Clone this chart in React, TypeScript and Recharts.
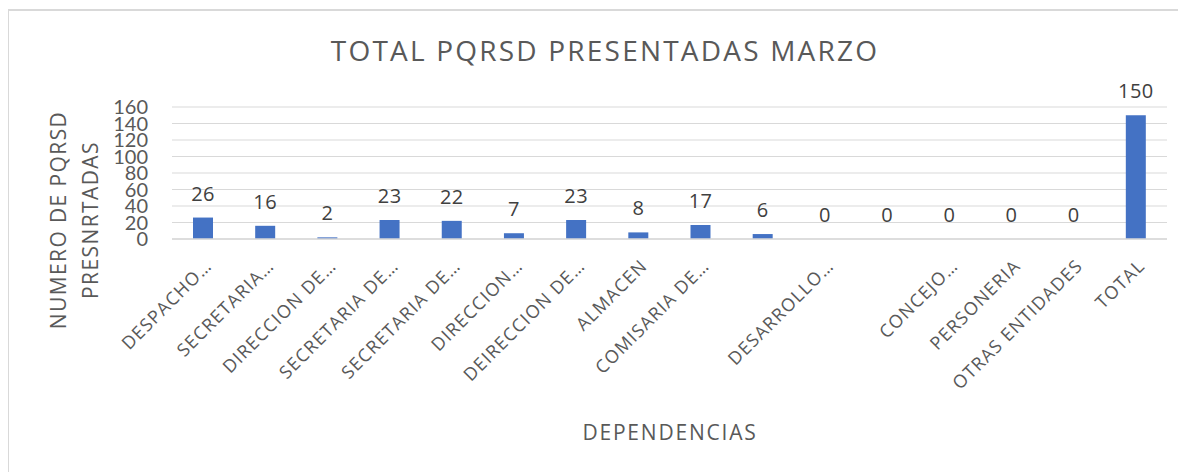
import React from "react";
import { ComposedChart, Bar, Line, XAxis, YAxis, CartesianGrid, LabelList } from "recharts";

const dependencias = [
  "DESPACHO…",
  "SECRETARIA…",
  "DIRECCION DE…",
  "SECRETARIA DE…",
  "SECRETARIA DE…",
  "DIRECCION…",
  "DEIRECCION DE…",
  "ALMACEN",
  "COMISARIA DE…",
  "",
  "DESARROLLO…",
  "",
  "CONCEJO…",
  "PERSONERIA",
  "OTRAS ENTIDADES",
  "TOTAL",
];
const pqrsd = [26, 16, 2, 23, 22, 7, 23, 8, 17, 6, 0, 0, 0, 0, 0, 150];
const yTicks = [0, 20, 40, 60, 80, 100, 120, 140, 160];

const data = dependencias.map((name, i) => ({ name, value: pqrsd[i] }));

const FONT = "'Open Sans', Lato, sans-serif";
const GREY = "#595959";

function CategoryTick(props: any) {
  const { x, y, payload } = props;
  return (
    <g transform={`translate(${x + 10},${y + 28})`}>
      <text
        x={0}
        y={0}
        transform="rotate(-45)"
        textAnchor="end"
        fill={GREY}
        fontSize={18}
        fontFamily={FONT}
        style={{ letterSpacing: "1.2px" }}
      >
        {payload.value}
      </text>
    </g>
  );
}

// value labels (also for the zero bars)
function ValueLabel(props: any) {
  const { x, y, value } = props;
  return (
    <text
      x={x}
      y={y - 17}
      textAnchor="middle"
      fill="#404040"
      fontSize={20}
      fontFamily={FONT}
      style={{ letterSpacing: "0.5px" }}
    >
      {value}
    </text>
  );
}

export default function App() {
  return (
    <div style={{ position: "relative", width: 1178, height: 464, fontFamily: FONT }}>
      <div
        style={{
          position: "absolute",
          left: -1,
          top: 1,
          width: 1180,
          height: 470,
          borderTop: "2px solid #d9d9d9",
          borderLeft: "2px solid #d9d9d9",
        }}
      />
      <div
        style={{
          position: "absolute",
          left: 597,
          top: 42,
          transform: "translate(-50%, -50%)",
          fontSize: 28,
          letterSpacing: "2.2px",
          color: GREY,
          whiteSpace: "nowrap",
          lineHeight: "30px",
        }}
      >
        TOTAL PQRSD PRESENTADAS MARZO
      </div>
      <div
        style={{
          position: "absolute",
          left: 66,
          top: 212,
          transform: "translate(-50%, -50%) rotate(-90deg)",
          fontSize: 21,
          letterSpacing: "1.4px",
          color: GREY,
          whiteSpace: "nowrap",
          textAlign: "center",
          lineHeight: "32px",
        }}
      >
        NUMERO DE PQRSD
        <br />
        PRESNRTADAS
      </div>
      <div
        style={{
          position: "absolute",
          left: 662,
          top: 424,
          transform: "translate(-50%, -50%)",
          fontSize: 21,
          letterSpacing: "1.8px",
          color: GREY,
          whiteSpace: "nowrap",
        }}
      >
        DEPENDENCIAS
      </div>
      <ComposedChart
        width={1178}
        height={464}
        data={data}
        margin={{ top: 99, right: 19, bottom: 33, left: 84 }}
        style={{ position: "absolute", left: 0, top: 0 }}
      >
        <CartesianGrid vertical={false} stroke="#d9d9d9" />
        <XAxis
          dataKey="name"
          interval={0}
          height={200}
          tickLine={false}
          tickSize={0}
          tickMargin={0}
          axisLine={{ stroke: "#d9d9d9", strokeWidth: 1.5 }}
          tick={<CategoryTick />}
        />
        <YAxis
          width={80}
          domain={[0, 160]}
          ticks={yTicks}
          interval={0}
          axisLine={false}
          tickLine={false}
          tickSize={0}
          tickMargin={24}
          tick={{ fill: GREY, fontSize: 20, fontFamily: "Lato, sans-serif" }}
        />
        <Bar dataKey="value" fill="#4472c4" barSize={20} isAnimationActive={false} />
        <Line
          dataKey="value"
          stroke="none"
          dot={false}
          activeDot={false}
          legendType="none"
          isAnimationActive={false}
        >
          <LabelList dataKey="value" content={<ValueLabel />} />
        </Line>
      </ComposedChart>
    </div>
  );
}
